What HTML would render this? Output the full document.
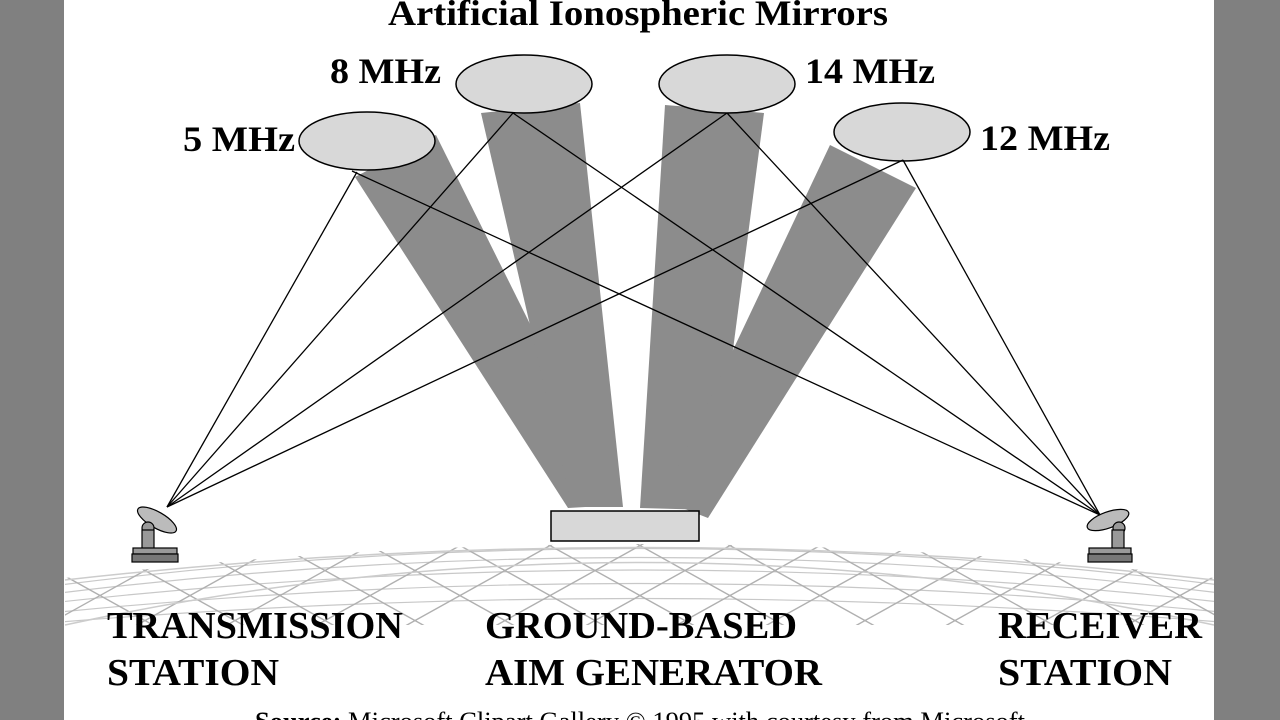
<!DOCTYPE html>
<html><head><meta charset="utf-8"><style>
html,body{margin:0;padding:0;width:1280px;height:720px;overflow:hidden;background:#fff}
svg{display:block}
text{font-family:"Liberation Serif",serif;font-weight:bold;fill:#000}
</style></head><body>
<svg width="1280" height="720" viewBox="0 0 1280 720" xmlns="http://www.w3.org/2000/svg">
<rect x="0" y="0" width="64" height="720" fill="#808080"/>
<rect x="1214" y="0" width="66" height="720" fill="#808080"/>
<defs>
<clipPath id="ground"><path d="M65,578 Q640,510 1214,578 L1214,625 L65,625 Z"/></clipPath></defs>
<!-- ground grid -->
<g clip-path="url(#ground)" stroke="#c8c8c8" fill="none" stroke-width="1.2">
<path d="M60,585 Q640,512 1220,585"/>
<path d="M60,593 Q640,522 1220,593"/>
<path d="M60,602 Q640,538 1220,602"/>
<path d="M60,612 Q640,555 1220,612"/>
<path d="M60,622 Q640,575 1220,622"/>
<g stroke="#b0b0b0" stroke-width="1.4">
<path d="M20,640 L200,540 M110,640 L290,540 M200,640 L380,540 M290,640 L470,540 M380,640 L560,540 M470,640 L650,540 M560,640 L740,540 M650,640 L830,540 M740,640 L920,540 M830,640 L1010,540 M920,640 L1100,540 M1010,640 L1190,540 M1100,640 L1280,540"/>
<path d="M0,540 L180,640 M90,540 L270,640 M180,540 L360,640 M270,540 L450,640 M360,540 L540,640 M450,540 L630,640 M540,540 L720,640 M630,540 L810,640 M720,540 L900,640 M810,540 L990,640 M900,540 L1080,640 M990,540 L1170,640 M1080,540 L1260,640"/>
</g>
</g>
<path d="M65,625 Q640,500 1214,625" stroke="#ccc" fill="none" stroke-width="1.5"/>
<path d="M65,580 Q640,515 1214,580" stroke="#ccc" fill="none" stroke-width="1.5"/>
<!-- beams -->
<g fill="#8c8c8c">
<polygon points="355,177 436,135 620,505 568,508"/>
<polygon points="481,113 580,103 623,507 572,507"/>
<polygon points="665,105 764,113 712,510 640,508"/>
<polygon points="830,145 916,188 708,518 662,500"/>
</g>
<!-- ellipses -->
<g fill="#d8d8d8" stroke="#000" stroke-width="1.5">
<ellipse cx="367" cy="141" rx="68" ry="29"/>
<ellipse cx="524" cy="84" rx="68" ry="29"/>
<ellipse cx="727" cy="84" rx="68" ry="29"/>
<ellipse cx="902" cy="132" rx="68" ry="29"/>
</g>
<rect x="551" y="511" width="148" height="30" fill="#d8d8d8" stroke="#000" stroke-width="1.5"/>
<!-- lines -->
<g stroke="#000" stroke-width="1.3">
<line x1="167" y1="507" x2="357" y2="172"/>
<line x1="167" y1="507" x2="513" y2="113"/>
<line x1="167" y1="507" x2="727" y2="113"/>
<line x1="167" y1="507" x2="903" y2="160"/>
<line x1="1100" y1="515" x2="352" y2="171"/>
<line x1="1100" y1="515" x2="513" y2="113"/>
<line x1="1100" y1="515" x2="727" y2="113"/>
<line x1="1100" y1="515" x2="903" y2="160"/>
</g>
<!-- dishes -->
<g stroke="#000" stroke-width="1.2" fill="#999">
<ellipse cx="157" cy="520" rx="22" ry="8" transform="rotate(30 157 520)" fill="#bbb"/>
<circle cx="148" cy="528" r="6"/>
<rect x="142" y="530" width="12" height="20"/>
<rect x="133" y="548" width="44" height="6"/>
<rect x="132" y="554" width="46" height="8" fill="#777"/>
<ellipse cx="1108" cy="520" rx="22" ry="8" transform="rotate(-20 1108 520)" fill="#bbb"/>
<circle cx="1119" cy="528" r="6"/>
<rect x="1112" y="530" width="12" height="20"/>
<rect x="1089" y="548" width="42" height="6"/>
<rect x="1088" y="554" width="44" height="8" fill="#777"/>
</g>
<!-- text -->
<text x="388" y="25" font-size="36" textLength="500" lengthAdjust="spacingAndGlyphs">Artificial Ionospheric Mirrors</text>
<text x="330" y="83" font-size="36" textLength="111" lengthAdjust="spacingAndGlyphs">8 MHz</text>
<text x="183" y="151" font-size="36" textLength="112" lengthAdjust="spacingAndGlyphs">5 MHz</text>
<text x="805" y="83" font-size="36" textLength="130" lengthAdjust="spacingAndGlyphs">14 MHz</text>
<text x="980" y="150" font-size="36" textLength="130" lengthAdjust="spacingAndGlyphs">12 MHz</text>
<g font-size="38">
<text x="107" y="638" textLength="296" lengthAdjust="spacingAndGlyphs">TRANSMISSION</text>
<text x="107" y="685" textLength="172" lengthAdjust="spacingAndGlyphs">STATION</text>
<text x="485" y="638" textLength="312" lengthAdjust="spacingAndGlyphs">GROUND-BASED</text>
<text x="485" y="685" textLength="337" lengthAdjust="spacingAndGlyphs">AIM GENERATOR</text>
<text x="998" y="638" textLength="204" lengthAdjust="spacingAndGlyphs">RECEIVER</text>
<text x="998" y="685" textLength="174" lengthAdjust="spacingAndGlyphs">STATION</text>
</g>
<text x="255" y="730" font-size="26" style="font-weight:normal" textLength="770" lengthAdjust="spacingAndGlyphs"><tspan style="font-weight:bold">Source:</tspan> Microsoft Clipart Gallery © 1995 with courtesy from Microsoft</text>
</svg>
</body></html>
